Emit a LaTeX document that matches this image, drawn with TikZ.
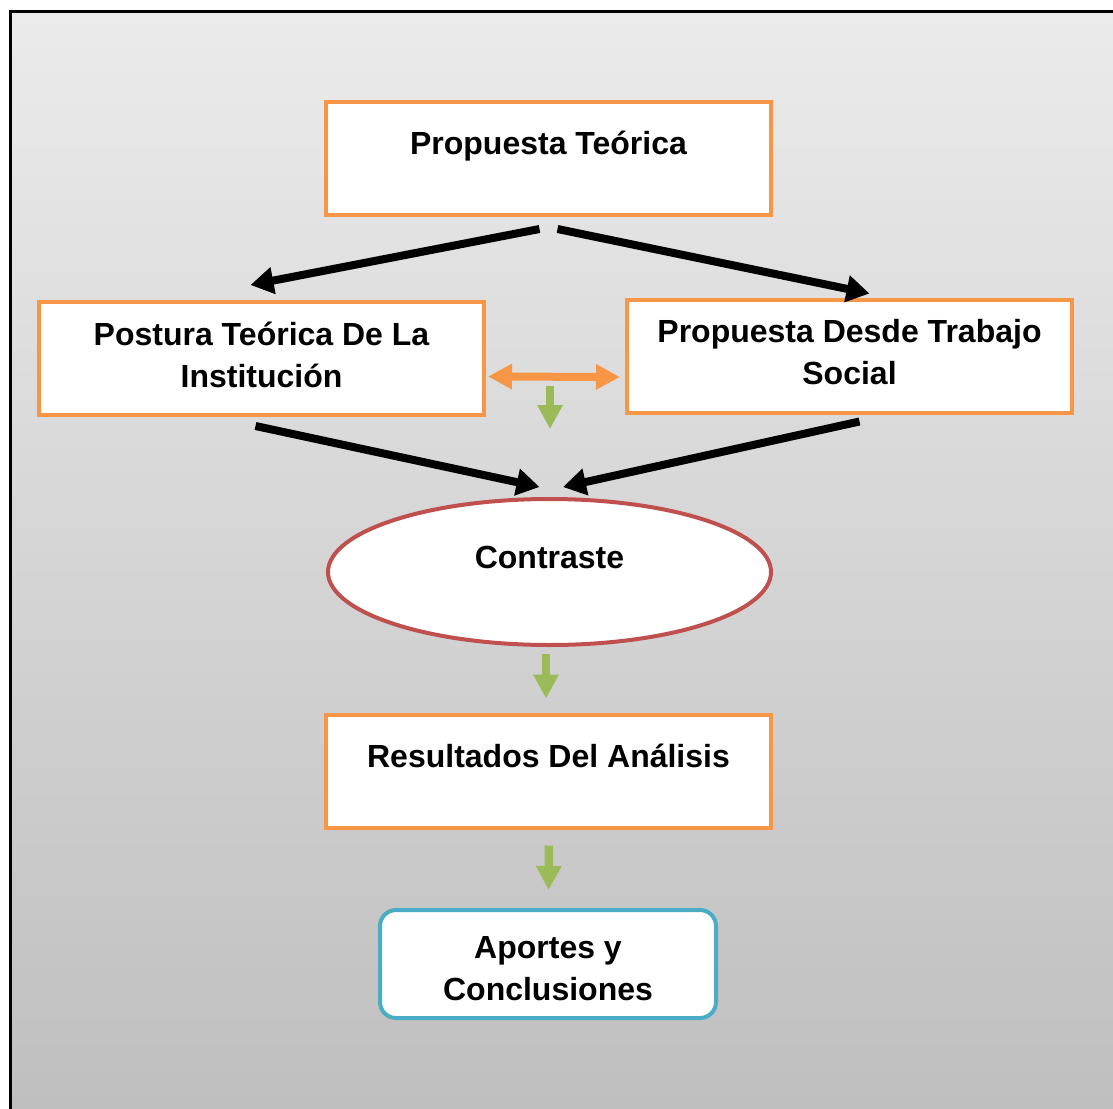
\documentclass[tikz,border=0pt]{standalone}
\usepackage{fontspec}
\setmainfont{Liberation Sans}
\usetikzlibrary{arrows.meta,positioning,shapes.geometric}

\definecolor{boxorange}{HTML}{F79646}
\definecolor{boxred}{HTML}{C0504D}
\definecolor{boxblue}{HTML}{4BACC6}
\definecolor{arrgreen}{HTML}{9BBB59}
\definecolor{bgtop}{HTML}{EBEBEB}
\definecolor{bgbot}{HTML}{BEBEBE}

\tikzset{
  obox/.style={draw=boxorange, line width=4pt, fill=white, minimum width=445pt, minimum height=113pt, align=center, inner sep=0pt},
  rellipse/.style={ellipse, draw=boxred, line width=4pt, fill=white, minimum width=443pt, minimum height=146pt, inner sep=0pt},
  bbox/.style={draw=boxblue, line width=4pt, fill=white, rounded corners=16pt, minimum width=336pt, minimum height=108pt, align=center, inner sep=0pt},
  raised/.style={text height=22pt, text depth=30pt},
  lifted/.style={text depth=8pt},
  lowered/.style={text height=74pt},
  blackarrow/.style={line width=8pt, -{Triangle[width=26pt,length=23pt]}},
  orangearrow/.style={draw=boxorange, line width=8pt, {Triangle[width=24pt,length=24pt]}-{Triangle[width=24pt,length=24pt]}},
  greenarrow/.style={draw=arrgreen, line width=8.5pt, -{Triangle[width=24pt,length=24pt]}}
}

\begin{document}
\begin{tikzpicture}[x=1pt, y=-1pt, every node/.style={font=\bfseries\fontsize{32}{42}\selectfont}]
  \useasboundingbox (0,0) rectangle (1113,1108);
  \clip (0,0) rectangle (1113,1108);
  % background panel
  \shade[top color=bgtop, bottom color=bgbot] (10,12) rectangle (1130,1130);
  \draw[line width=3pt] (10,1130) -- (10,12) -- (1130,12);

  \node[obox, raised] (teoria) at (548.5,158.5) {Propuesta Teórica};
  \node[obox, lifted] (postura) at (261.5,358.5) {Postura Teórica De La\\Institución};
  \node[obox, lifted] (trabajo) at (849.5,356) {Propuesta Desde Trabajo\\Social};
  \node[rellipse, raised] (contraste) at (549.5,572) {Contraste};
  \node[obox, raised] (result) at (548.5,771) {Resultados Del Análisis};
  \node[bbox, lowered] (aportes) at (548,964) {Aportes y\\Conclusiones};

  % black arrows
  \draw[blackarrow] ([shift={(-9,12)}]teoria.south) -- ([shift={(-11,-15)}]postura.north);
  \draw[blackarrow] ([shift={(9,12)}]teoria.south) -- ([shift={(20,-4)}]trabajo.north);
  \draw[blackarrow] ([shift={(-6,9)}]postura.south) -- ([shift={(-10,-10)}]contraste.north);
  \draw[blackarrow] ([shift={(10,7)}]trabajo.south) -- ([shift={(13.5,-10)}]contraste.north);

  % two-way arrow
  \draw[orangearrow] ([shift={(2,18)}]postura.east) -- ([shift={(-5,21)}]trabajo.west);

  % green arrows
  \draw[greenarrow] ([shift={(0.5,-111)}]contraste.north) -- ([shift={(0.5,-68)}]contraste.north);
  \draw[greenarrow] ([shift={(-3.5,7)}]contraste.south) -- ([shift={(-2.5,-14)}]result.north);
  \draw[greenarrow] ([shift={(0.5,16)}]result.south) -- ([shift={(0.5,-18)}]aportes.north);
\end{tikzpicture}
\end{document}
